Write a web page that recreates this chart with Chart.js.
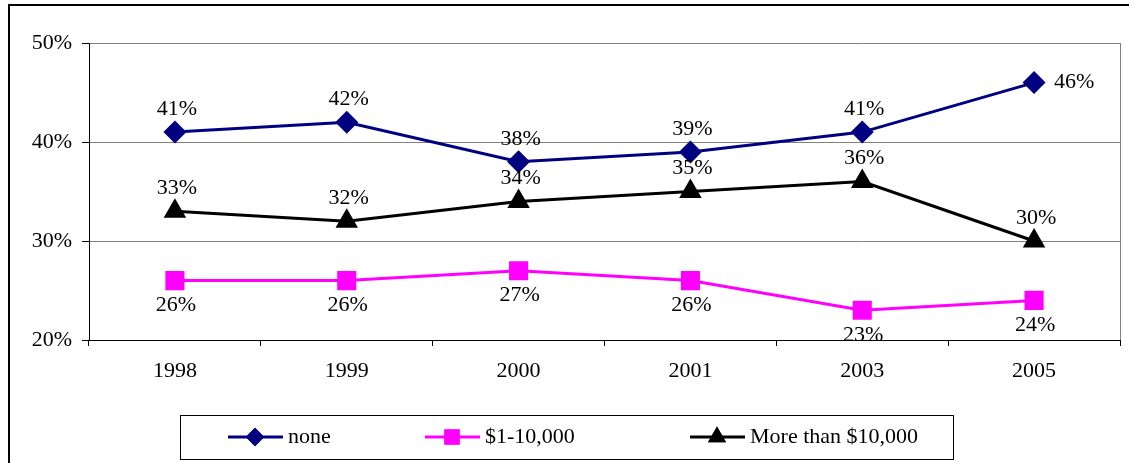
<!DOCTYPE html>
<html>
<head>
<meta charset="utf-8">
<script src="https://cdn.jsdelivr.net/npm/chart.js@4/dist/chart.umd.min.js"></script>
<style>
    html, body { margin: 0; padding: 0; background: #fff; }
    #wrap { width: 1129px; height: 463px; }
</style>
</head>
<body>
<div id="wrap"><canvas id="chart" width="1129" height="463"></canvas></div>
<script>
const years = ['1998', '1999', '2000', '2001', '2003', '2005'];
const seriesNames = ['none', '$1-10,000', 'More than $10,000'];
const noneValues = [41, 42, 38, 39, 41, 46];
const smallValues = [26, 26, 27, 26, 23, 24];
const largeValues = [33, 32, 34, 35, 36, 30];

const FONT = "'Liberation Serif', 'Times New Roman', serif";

// draws the "41%" style labels next to each point
const valueLabels = {
    id: 'valueLabels',
    afterDatasetsDraw(chart) {
        const ctx = chart.ctx;
        ctx.save();
        ctx.font = '22px ' + FONT;
        ctx.fillStyle = '#000';
        ctx.textBaseline = 'middle';
        chart.data.datasets.forEach((ds, di) => {
            const meta = chart.getDatasetMeta(di);
            meta.data.forEach((pt, i) => {
                let text = ds.data[i] + '%';
                let place = ds.labelPlace;
                if (ds.lastPlace && i === ds.data.length - 1) place = ds.lastPlace;
                if (place === 'right') {
                    ctx.textAlign = 'left';
                    ctx.fillText(text, pt.x + 20, pt.y);
                } else if (place === 'below') {
                    ctx.textAlign = 'center';
                    ctx.fillText(text, pt.x + 1, pt.y + 25);
                } else {
                    ctx.textAlign = 'center';
                    ctx.fillText(text, pt.x + 2, pt.y - 23);
                }
            });
        });
        ctx.restore();
    }
};

// outer frame, plot border and the boxed legend
const frame = {
    id: 'frame',
    beforeDraw(chart) {
        const ctx = chart.ctx;
        ctx.save();
        ctx.fillStyle = '#fff';
        ctx.fillRect(0, 0, chart.width, chart.height);
        ctx.restore();
    },
    afterDraw(chart) {
        const ctx = chart.ctx;
        const a = chart.chartArea;
        ctx.save();
        ctx.strokeStyle = '#808080';
        ctx.lineWidth = 1;
        ctx.beginPath();
        ctx.moveTo(Math.round(a.right) + 0.5, a.top);
        ctx.lineTo(Math.round(a.right) + 0.5, a.bottom);
        ctx.stroke();

        ctx.strokeStyle = '#000';
        ctx.lineWidth = 2;
        ctx.beginPath();
        ctx.moveTo(9, 470);
        ctx.lineTo(9, 5);
        ctx.lineTo(1140, 5);
        ctx.stroke();

        // legend
        ctx.lineWidth = 1;
        ctx.strokeStyle = '#000';
        ctx.strokeRect(180.5, 415.5, 773, 44);
        const starts = [228, 425, 690];
        const cy = 437;
        ctx.font = '22px ' + FONT;
        ctx.textBaseline = 'middle';
        ctx.textAlign = 'left';
        chart.data.datasets.forEach((ds, di) => {
            const x0 = starts[di];
            ctx.strokeStyle = ds.borderColor;
            ctx.lineWidth = 3;
            ctx.beginPath();
            ctx.moveTo(x0, cy);
            ctx.lineTo(x0 + 55, cy);
            ctx.stroke();
            ctx.fillStyle = ds.borderColor;
            Chart.helpers.drawPoint(ctx, {
                pointStyle: ds.pointStyle,
                radius: ds.pointRadius * 0.8,
                borderWidth: 0
            }, x0 + 27, cy);
            ctx.fill();
            ctx.fillStyle = '#000';
            ctx.fillText(seriesNames[di], x0 + 60, cy);
        });
        ctx.restore();
    }
};

new Chart(document.getElementById('chart'), {
    type: 'line',
    data: {
        labels: years,
        datasets: [
            {
                label: seriesNames[0],
                data: noneValues,
                borderColor: '#000080',
                backgroundColor: '#000080',
                pointStyle: 'rectRot',
                pointRadius: 11.5,
                labelPlace: 'above',
                lastPlace: 'right'
            },
            {
                label: seriesNames[1],
                data: smallValues,
                borderColor: '#ff00ff',
                backgroundColor: '#ff00ff',
                pointStyle: 'rect',
                pointRadius: 13.5,
                labelPlace: 'below'
            },
            {
                label: seriesNames[2],
                data: largeValues,
                borderColor: '#000000',
                backgroundColor: '#000000',
                pointStyle: 'triangle',
                pointRadius: 13,
                labelPlace: 'above'
            }
        ]
    },
    options: {
        responsive: false,
        animation: false,
        layout: { autoPadding: false, padding: { top: 43, right: 9, left: 0, bottom: 0 } },
        elements: {
            line: { borderWidth: 3, tension: 0 },
            point: { borderWidth: 0, hoverRadius: 11 }
        },
        plugins: {
            legend: { display: false },
            tooltip: { enabled: false }
        },
        scales: {
            x: {
                offset: true,
                afterFit(scale) {
                    scale.height = 123;
                    scale.paddingLeft = 0;
                    scale.paddingRight = 0;
                },
                grid: {
                    offset: true,
                    drawOnChartArea: false,
                    tickLength: 6,
                    color: '#000'
                },
                border: { color: '#000', width: 1 },
                ticks: {
                    color: '#000',
                    padding: 12,
                    maxRotation: 0,
                    font: { family: FONT, size: 22 }
                }
            },
            y: {
                min: 20,
                max: 50,
                afterFit(scale) {
                    scale.width = 89;
                    scale.paddingTop = 0;
                    scale.paddingBottom = 0;
                },
                grid: {
                    color: '#808080',
                    tickColor: '#000',
                    tickLength: 7
                },
                border: { color: '#000', width: 1 },
                ticks: {
                    stepSize: 10,
                    color: '#000',
                    padding: 10,
                    font: { family: FONT, size: 22 },
                    callback: v => v + '%'
                }
            }
        }
    },
    plugins: [frame, valueLabels]
});
</script>
</body>
</html>
